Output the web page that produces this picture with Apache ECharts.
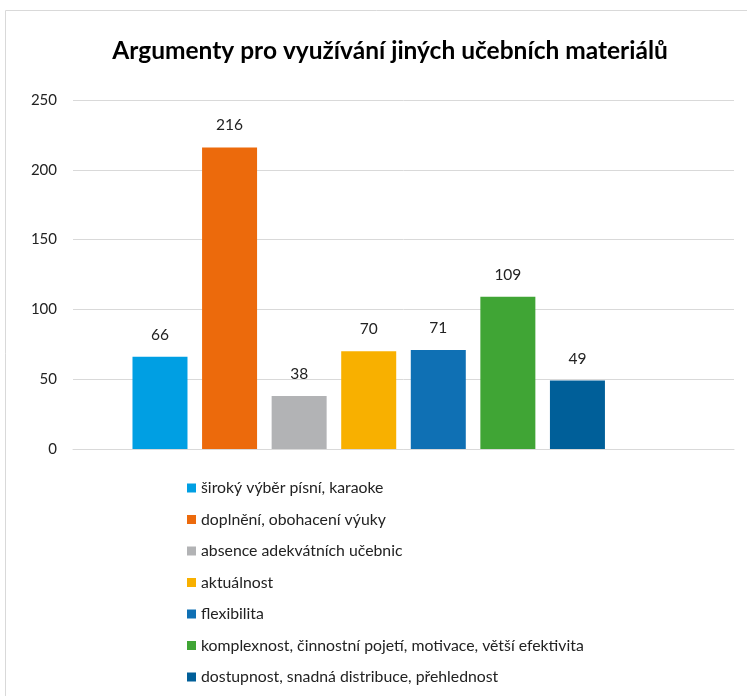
<!DOCTYPE html>
<html>
<head>
<meta charset="utf-8">
<script src="https://cdn.jsdelivr.net/npm/echarts@6/dist/echarts.min.js"></script>
<style>
  html, body { margin: 0; padding: 0; background: #fff; }
  #chart { width: 747px; height: 696px; }
</style>
</head>
<body>
<div id="chart"></div>
<script>
// data
const seriesNames = [
  'široký výběr písní, karaoke',
  'doplnění, obohacení výuky',
  'absence adekvátních učebnic',
  'aktuálnost',
  'flexibilita',
  'komplexnost, činnostní pojetí, motivace, větší efektivita',
  'dostupnost, snadná distribuce, přehlednost'
]
const values = [66, 216, 38, 70, 71, 109, 49]
const colors = ['#009fe3', '#ec6a0c', '#b2b3b5', '#f8b000', '#0f70b4', '#40a535', '#005f99']
const yTicks = [0, 50, 100, 150, 200, 250]

const font = 'Lato'
const chart = echarts.init(document.getElementById('chart'))

const series = seriesNames.map((name, i) => ({
  name,
  type: 'bar',
  data: [values[i]],
  barWidth: 55,
  barGap: '26.5%',
  itemStyle: { color: colors[i] },
  label: {
    show: true,
    position: 'top',
    distance: 14,
    color: '#222',
    fontFamily: font,
    fontSize: 15.5
  }
}))
// empty slot that Excel left at the right of the group
series.push({ name: '_empty', type: 'bar', data: ['-'], barWidth: 55, barGap: '26.5%' })

chart.setOption({
  animation: false,
  title: {
    text: 'Argumenty pro využívání jiných učebních materiálů',
    left: 385,
    textAlign: 'center',
    top: 34,
    textStyle: { fontFamily: font, fontSize: 24.5, fontWeight: 'bold', color: '#000' }
  },
  graphic: [{
    type: 'rect',
    shape: { x: 5.5, y: 10.5, width: 760, height: 720 },
    style: { fill: 'none', stroke: '#d9d9d9', lineWidth: 1 },
    silent: true
  }],
  grid: { left: 73, right: 13, top: 100, bottom: 247, outerBoundsMode: 'none' },
  legend: {
    data: seriesNames,
    orient: 'vertical',
    left: 182,
    top: 474,
    icon: 'rect',
    itemWidth: 9,
    itemHeight: 9,
    itemGap: 13.5,
    textStyle: { fontFamily: font, fontSize: 15.8, color: '#222', lineHeight: 18 }
  },
  xAxis: {
    type: 'category',
    data: [''],
    axisLine: { show: true, lineStyle: { color: '#d9d9d9' } },
    axisTick: { show: false },
    axisLabel: { show: false }
  },
  yAxis: {
    type: 'value',
    min: yTicks[0],
    max: yTicks[yTicks.length - 1],
    interval: yTicks[1] - yTicks[0],
    axisLine: { show: false },
    axisTick: { show: false },
    splitLine: { lineStyle: { color: '#d9d9d9' } },
    axisLabel: { fontFamily: font, fontSize: 15, color: '#222', margin: 16 }
  },
  series
})
</script>
</body>
</html>
